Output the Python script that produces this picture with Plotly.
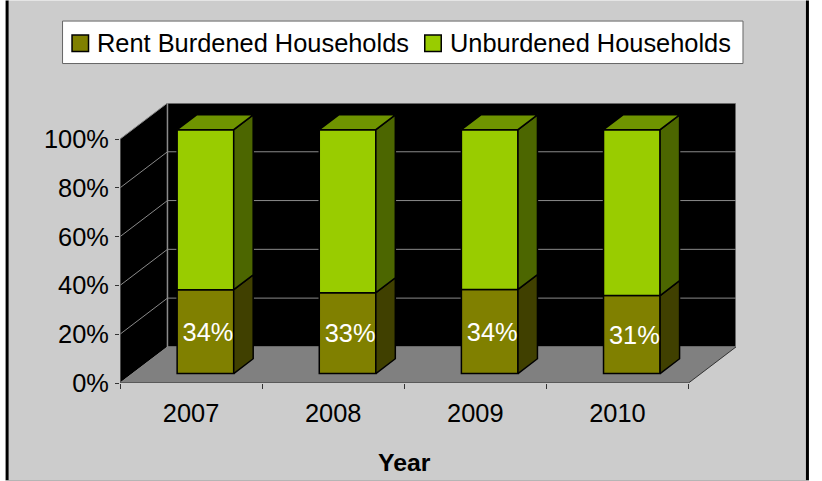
import plotly.graph_objects as go

years = ["2007", "2008", "2009", "2010"]
rent_burdened = [34.4, 33.2, 34.5, 32.0]
unburdened = [65.6, 66.8, 65.5, 68.0]
rent_labels = ["34%", "33%", "34%", "31%"]
y_ticks = [0, 20, 40, 60, 80, 100]
y_tick_labels = ["0%", "20%", "40%", "60%", "80%", "100%"]
series_names = ["Rent Burdened Households", "Unburdened Households"]

# oblique projection, in axis units
CAT = [1, 2, 3, 4]
WALL_X, WALL_Y = 0.334, 14.8
BAR_SHIFT, BAR_BASE = 0.101, 3.85
BAR_W = 0.398
SIDE_X, SIDE_Y = 0.137, 6.1
XR = [0.5, 4.5 + WALL_X]
YR = [0, 100 + WALL_Y]
L, R, T, B = 119.5, 86, 102.5, 98.3
W, H = 822, 481
PW, PH = W - L - R, H - T - B
FS = 25.4


def poly(pts):
    return "M" + "L".join(f"{x:.4f},{y:.4f}" for x, y in pts) + "Z"


def px_x(p):
    return (p - L) / PW


def px_y(p):
    return 1 - (p - T) / PH


def page_rect(x0, y0, x1, y1, fill, line=None):
    return dict(type="rect", xref="x domain", yref="y domain", x0=px_x(x0), x1=px_x(x1), y0=px_y(y0), y1=px_y(y1),
                fillcolor=fill, line=line or dict(width=0), layer="below")


shapes = []
# page frame
shapes.append(page_rect(7, 0, 807, 480, "#CCCCCC"))
shapes.append(page_rect(5, 0, 8, 480, "black"))
shapes.append(page_rect(806, 0, 809, 480, "black"))
shapes.append(page_rect(5, 480, 809, 481, "#A0A0A0"))

# legend
shapes.append(page_rect(62, 20.5, 743, 63, "white", dict(color="#666666", width=1)))
EDGE = dict(color="black", width=1.5)
legend_colors = ["#808000", "#99CC00"]
legend_swatch_x = [71.5, 424.5]
legend_text_x = [94, 447.5]
for sx, col in zip(legend_swatch_x, legend_colors):
    shapes.append(page_rect(sx, 34.5, sx + 16.5, 51, col, dict(color="black", width=1.5)))

x0, x1 = 0.5, 4.5
wall = "#8A8A8A"
# left wall, back wall, floor
shapes.append(dict(type="path", xref="x", yref="y", layer="below", fillcolor="black", line=dict(color=wall, width=1),
                   path=poly([(x0, 0), (x0 + WALL_X, WALL_Y), (x0 + WALL_X, 100 + WALL_Y), (x0, 100)])))
shapes.append(dict(type="path", xref="x", yref="y", layer="below", fillcolor="black", line=dict(color=wall, width=1.5),
                   path=poly([(x0 + WALL_X, WALL_Y), (x1 + WALL_X, WALL_Y), (x1 + WALL_X, 100 + WALL_Y), (x0 + WALL_X, 100 + WALL_Y)])))
shapes.append(dict(type="path", xref="x", yref="y", layer="below", fillcolor="#808080", line=dict(width=0),
                   path=poly([(x0, 0), (x1, 0), (x1 + WALL_X, WALL_Y), (x0 + WALL_X, WALL_Y)])))
# gridlines
for t in y_ticks[1:-1]:
    shapes.append(dict(type="line", xref="x", yref="y", layer="below", line=dict(color=wall, width=1),
                       x0=x0, y0=t, x1=x0 + WALL_X, y1=t + WALL_Y))
    shapes.append(dict(type="line", xref="x", yref="y", layer="below", line=dict(color=wall, width=1),
                       x0=x0 + WALL_X, y0=t + WALL_Y, x1=x1 + WALL_X, y1=t + WALL_Y))
# front axis lines
shapes.append(dict(type="line", xref="x", yref="y", layer="below", line=dict(color="#333333", width=1),
                   x0=x0, y0=0, x1=x1, y1=0))
shapes.append(dict(type="line", xref="x", yref="y", layer="below", line=dict(color="#555555", width=1),
                   x0=x0, y0=0, x1=x0, y1=100))
shapes.append(dict(type="line", xref="x", yref="y", layer="below", line=dict(color="#333333", width=1),
                   x0=x1, y0=0, x1=x1 + WALL_X, y1=WALL_Y))

fig = go.Figure()
bar_x = [c + BAR_SHIFT for c in CAT]
# front faces
fig.add_trace(go.Bar(x=bar_x, y=rent_burdened, base=[BAR_BASE] * 4, width=BAR_W, marker=dict(color="#808000", line=EDGE),
                     name=series_names[0], showlegend=False, hoverinfo="skip"))
fig.add_trace(go.Bar(x=bar_x, y=unburdened, base=[BAR_BASE + v for v in rent_burdened], width=BAR_W,
                     marker=dict(color="#99CC00", line=EDGE), name=series_names[1], showlegend=False, hoverinfo="skip"))
fig.update_layout(barmode="overlay")


def face(pts, color):
    fig.add_trace(go.Scatter(x=[p[0] for p in pts] + [pts[0][0]], y=[p[1] for p in pts] + [pts[0][1]], mode="lines",
                             fill="toself", fillcolor=color, line=EDGE, showlegend=False, hoverinfo="skip"))


# side and top faces
for bx, rv, uv in zip(bar_x, rent_burdened, unburdened):
    xr = bx + BAR_W / 2
    xl = bx - BAR_W / 2
    y0b, y1b, y2b = BAR_BASE, BAR_BASE + rv, BAR_BASE + rv + uv
    face([(xr, y0b), (xr + SIDE_X, y0b + SIDE_Y), (xr + SIDE_X, y1b + SIDE_Y), (xr, y1b)], "#404000")
    face([(xr, y1b), (xr + SIDE_X, y1b + SIDE_Y), (xr + SIDE_X, y2b + SIDE_Y), (xr, y2b)], "#4C6600")
    face([(xl, y2b), (xr, y2b), (xr + SIDE_X, y2b + SIDE_Y), (xl + SIDE_X, y2b + SIDE_Y)], "#6F9400")

# data labels
fig.add_trace(go.Scatter(x=[b + 0.018 for b in bar_x], y=[BAR_BASE + v / 2 - 1.1 for v in rent_burdened], mode="text",
                         text=rent_labels, textposition="middle center",
                         textfont=dict(color="white", size=FS), showlegend=False, hoverinfo="skip"))

annotations = [dict(text="<b>Year</b>", x=2.5, xref="x", y=px_y(462), yref="y domain", showarrow=False,
                    font=dict(size=FS - 0.6, color="black"), xanchor="center", yanchor="middle")]
for name, tx in zip(series_names, legend_text_x):
    annotations.append(dict(text=name, x=px_x(tx), xref="x domain", y=px_y(42.5), yref="y domain", showarrow=False,
                            font=dict(size=FS, color="black"), xanchor="left", yanchor="middle"))

fig.update_layout(
    width=W, height=H, margin=dict(l=L, r=R, t=T, b=B, autoexpand=False),
    paper_bgcolor="white", plot_bgcolor="rgba(0,0,0,0)", showlegend=False,
    font=dict(family="Liberation Sans, Arial, sans-serif", size=FS, color="black"),
    shapes=shapes,
    xaxis=dict(range=XR, tickvals=CAT, ticktext=years, ticks="", showgrid=False, zeroline=False, showline=False,
               ticklabelstandoff=13,
               minor=dict(tickvals=[0.5, 1.5, 2.5, 3.5, 4.5], ticks="outside", ticklen=5, tickcolor="#333333", showgrid=False)),
    yaxis=dict(range=YR, tickvals=y_ticks, ticktext=y_tick_labels, ticks="outside", ticklen=4, tickcolor="#333333",
               showgrid=False, zeroline=False, showline=False, ticklabelstandoff=1),
    annotations=annotations,
)
fig.write_html("out.html", config=dict(displayModeBar=False),
               post_script="document.body.style.margin='0';document.documentElement.style.overflow='hidden';")
